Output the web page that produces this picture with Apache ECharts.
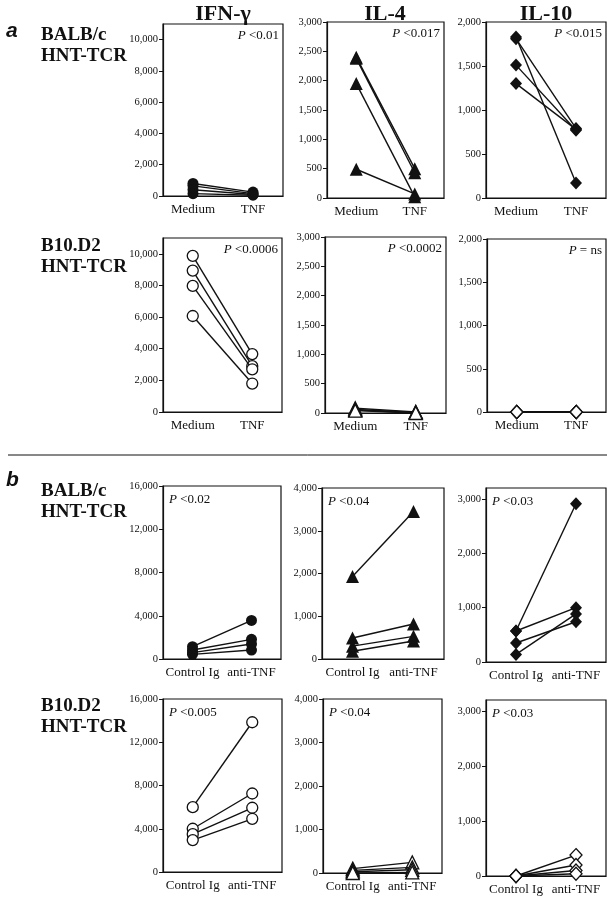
<!DOCTYPE html>
<html><head><meta charset="utf-8">
<script src="https://cdn.jsdelivr.net/npm/echarts@6/dist/echarts.min.js"></script>
<style>html,body{margin:0;padding:0;background:#fff}#c{width:607px;height:899px}</style>
</head><body><div id="c"></div>
<script>
// ---- data ----
const colTitles = ['IFN-γ', 'IL-4', 'IL-10'];
const strainLabels = ['BALB/c', 'B10.D2', 'BALB/c', 'B10.D2'];
const tcrLabel = 'HNT-TCR';
const catsA = ['Medium', 'TNF'];
const catsB = ['Control Ig', 'anti-TNF'];
const pValues = ['<0.01', '<0.017', '<0.015', '<0.0006', '<0.0002', '= ns', '<0.02', '<0.04', '<0.03', '<0.005', '<0.04', '<0.03'];

// each inner pair: [first condition, second condition]
const aBalbIfn  = [[800, 250], [650, 150], [400, 100], [150, 50]];
const aBalbIl4  = [[2400, 500], [2380, 430], [1950, 20], [490, 70]];
const aBalbIl10 = [[1830, 170], [1810, 790], [1510, 770], [1300, 780]];
const aB10Ifn   = [[9870, 3660], [8940, 2900], [7970, 2700], [6070, 1800]];
const aB10Il4   = [[80, 20], [60, 10], [50, 5], [40, 0]];
const aB10Il10  = [[0, 0], [0, 0], [0, 0], [0, 0]];
const bBalbIfn  = [[1140, 3570], [830, 1820], [590, 1390], [430, 830]];
const bBalbIl4  = [[1930, 3450], [490, 820], [300, 530], [180, 420]];
const bBalbIl10 = [[570, 2910], [570, 1000], [350, 740], [140, 885]];
const bB10Ifn   = [[6000, 13850], [4000, 7260], [3500, 5940], [2950, 4920]];
const bB10Il4   = [[100, 245], [60, 130], [30, 75], [0, 15]];
const bB10Il10  = [[0, 380], [0, 200], [0, 100], [0, 40]];

const yMax = [11000, 3000, 2000, 11000, 3000, 2000, 16000, 4000, 3200, 16000, 4000, 3200];
const yTicks = [
  [0, 2000, 4000, 6000, 8000, 10000], [0, 500, 1000, 1500, 2000, 2500, 3000], [0, 500, 1000, 1500, 2000],
  [0, 2000, 4000, 6000, 8000, 10000], [0, 500, 1000, 1500, 2000, 2500, 3000], [0, 500, 1000, 1500, 2000],
  [0, 4000, 8000, 12000, 16000], [0, 1000, 2000, 3000, 4000], [0, 1000, 2000, 3000],
  [0, 4000, 8000, 12000, 16000], [0, 1000, 2000, 3000, 4000], [0, 1000, 2000, 3000]
];

// ---- layout ----
const panelData = [aBalbIfn, aBalbIl4, aBalbIl10, aB10Ifn, aB10Il4, aB10Il10,
                   bBalbIfn, bBalbIl4, bBalbIl10, bB10Ifn, bB10Il4, bB10Il10];
const rects = [
  [163, 24, 120, 172], [327, 22, 117, 176], [486, 22, 120, 176],
  [163, 238, 119, 174], [325, 237, 121, 176], [487, 239, 119, 173],
  [163, 486, 118, 173], [322, 488, 122, 171], [486, 488, 120, 174],
  [163, 699, 119, 173], [323, 699, 119, 174], [486, 700, 120, 176]
];
const symbols = ['circle', 'triangle', 'diamond'];
const serif = '"Liberation Serif", "Times New Roman", serif';

const grids = [], xAxes = [], yAxes = [], series = [], graphics = [];
panelData.forEach((pd, i) => {
  const [l, t, w, h] = rects[i];
  const row = Math.floor(i / 3), col = i % 3;
  const open = (row === 1 || row === 3);
  const cats = row < 2 ? catsA : catsB;
  grids.push({left: l, top: t, width: w, height: h, show: true, borderColor: '#111', borderWidth: 1.2, backgroundColor: 'transparent'});
  xAxes.push({type: 'category', gridIndex: i, data: cats, boundaryGap: true,
    axisLine: {lineStyle: {color: '#111', width: 1.2}},
    axisTick: {alignWithLabel: true, length: 4, lineStyle: {color: '#111'}},
    axisLabel: {color: '#111', fontFamily: serif, fontSize: 13, margin: 7, interval: 0}});
  yAxes.push({type: 'value', gridIndex: i, min: 0, max: yMax[i],
    splitLine: {show: false},
    axisLine: {show: true, lineStyle: {color: '#111', width: 1.2}},
    axisTick: {show: true, length: 4, customValues: yTicks[i], lineStyle: {color: '#111'}},
    axisLabel: {color: '#111', fontFamily: serif, fontSize: 10.5, margin: 5, customValues: yTicks[i],
      formatter: v => v.toLocaleString('en-US')}});
  const sym = symbols[col];
  const size = sym === 'circle' ? 11 : (sym === 'triangle' ? 13 : [12, 13]);
  pd.forEach((pair, k) => {
    series.push({type: 'line', xAxisIndex: i, yAxisIndex: i, data: pair,
      symbol: sym, symbolSize: size, showSymbol: true, animation: false,
      lineStyle: {color: '#111', width: 1.4},
      itemStyle: open ? {color: '#fff', borderColor: '#111', borderWidth: 1.3} : {color: '#111', borderColor: '#111', borderWidth: 0},
      z: 3 + k});
  });
  // P value label
  const rightSide = row < 2;
  graphics.push({type: 'text',
    x: rightSide ? l + w - 4 : l + 6, y: t + (row < 2 ? 12 : 14),
    style: {text: '{p|P} ' + pValues[i], textAlign: rightSide ? 'right' : 'left', textVerticalAlign: 'middle',
      font: '13px ' + serif, fill: '#111',
      rich: {p: {fontStyle: 'italic', fontFamily: serif, fontSize: 13, fill: '#111'}}}});
});

// column titles
const titleCx = [223, 385, 546];
colTitles.forEach((tt, c) => {
  graphics.push({type: 'text', x: titleCx[c], y: 14,
    style: {text: tt, textAlign: 'center', textVerticalAlign: 'middle', font: 'bold 22px ' + serif, fill: '#111'}});
});
// row labels
const rowY = [35, 246, 491, 706];
strainLabels.forEach((s, r) => {
  graphics.push({type: 'text', x: 41, y: rowY[r],
    style: {text: s, textAlign: 'left', textVerticalAlign: 'middle', font: 'bold 19px ' + serif, fill: '#111'}});
  graphics.push({type: 'text', x: 41, y: rowY[r] + 21,
    style: {text: tcrLabel, textAlign: 'left', textVerticalAlign: 'middle', font: 'bold 19px ' + serif, fill: '#111'}});
});
// section letters
graphics.push({type: 'text', x: 6, y: 31, style: {text: 'a', font: 'italic bold 21px "Liberation Sans", Arial, sans-serif', fill: '#111', textVerticalAlign: 'middle'}});
graphics.push({type: 'text', x: 6, y: 480, style: {text: 'b', font: 'italic bold 21px "Liberation Sans", Arial, sans-serif', fill: '#111', textVerticalAlign: 'middle'}});
// separator
graphics.push({type: 'line', shape: {x1: 8, y1: 455, x2: 607, y2: 455}, style: {stroke: '#111', lineWidth: 1}});

const chart = echarts.init(document.getElementById('c'), null, {renderer: 'canvas'});
chart.setOption({animation: false, grid: grids, xAxis: xAxes, yAxis: yAxes, series: series, graphic: graphics});
</script></body></html>
